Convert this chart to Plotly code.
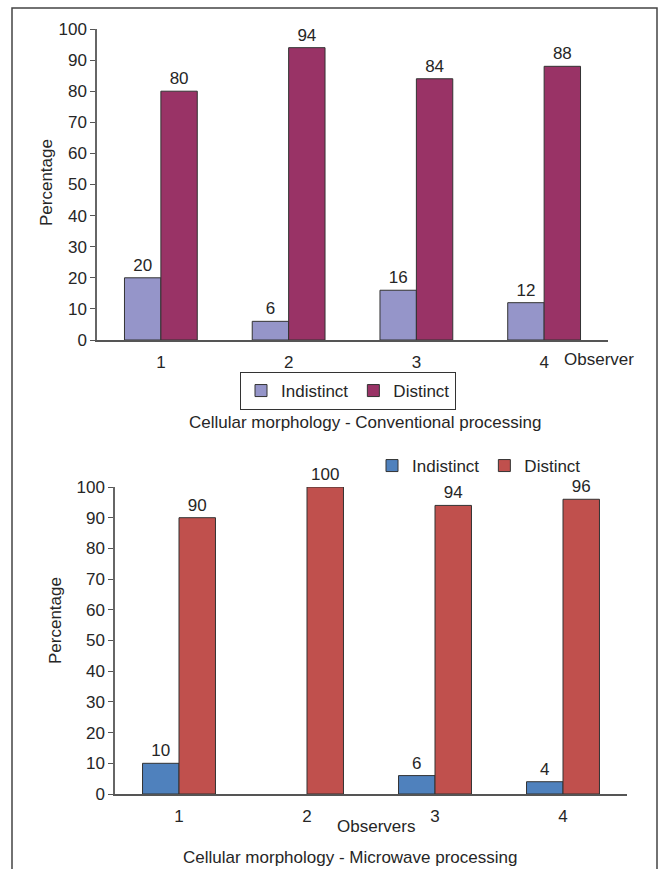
import plotly.graph_objects as go

# Data
observers = ["1", "2", "3", "4"]
conv_indistinct = [20, 6, 16, 12]
conv_distinct = [80, 94, 84, 88]
micro_indistinct = [10, 0, 6, 4]
micro_distinct = [90, 100, 94, 96]
y_ticks = list(range(0, 101, 10))

W, H = 661, 869
FONT = "Liberation Sans, Arial, sans-serif"
TXT = "#262626"


def px(x):
    return x / W


def py(y):
    return (H - y) / H


def labels(vals):
    # zero-height bars carry no value label
    return [str(v) if v else "" for v in vals]


def outline(vals):
    # zero-height bars get no outline either
    return dict(color="#333333", width=[1 if v else 0 for v in vals])


def bar(vals, name, color, xa, ya, leg):
    return go.Bar(x=observers, y=vals, name=name,
                  marker=dict(color=color, line=outline(vals)),
                  text=labels(vals), textposition="outside",
                  textfont=dict(size=17, color=TXT), cliponaxis=False,
                  xaxis=xa, yaxis=ya, legend=leg)


fig = go.Figure()

# Conventional processing (top panel)
fig.add_trace(bar(conv_indistinct, "Indistinct", "#9595C9", "x", "y", "legend"))
fig.add_trace(bar(conv_distinct, "Distinct", "#993366", "x", "y", "legend"))

# Microwave processing (bottom panel)
fig.add_trace(bar(micro_indistinct, "Indistinct", "#4F81BD", "x2", "y2", "legend2"))
fig.add_trace(bar(micro_distinct, "Distinct", "#C0504D", "x2", "y2", "legend2"))

yaxis_style = dict(range=[0, 100], tickvals=y_ticks, ticks="outside", ticklen=5,
                   tickcolor="#555555", showline=True, linecolor="#666666",
                   linewidth=1.5, showgrid=False, zeroline=False,
                   automargin=False,
                   tickfont=dict(size=17, color=TXT, family=FONT))
xaxis_style = dict(type="category", showline=True, linecolor="#555555",
                   linewidth=1.5, showgrid=False, ticks="outside", ticklen=6,
                   tickcolor="rgba(0,0,0,0)", automargin=False,
                   tickfont=dict(size=17, color=TXT, family=FONT))


def note(text, x, y, **kw):
    base = dict(text=text, x=px(x), y=py(y), xref="paper", yref="paper",
                xanchor="center", yanchor="middle", showarrow=False,
                font=dict(size=17, color=TXT))
    base.update(kw)
    return base


fig.update_layout(
    width=W, height=H,
    margin=dict(l=0, r=0, t=0, b=0, autoexpand=False),
    paper_bgcolor="white", plot_bgcolor="white",
    font=dict(family=FONT, size=17, color=TXT),
    barmode="group", bargap=0.43, bargroupgap=0,
    xaxis=dict(domain=[px(97), px(608)], anchor="y", **xaxis_style),
    yaxis=dict(domain=[py(340), py(29)], anchor="x", **yaxis_style),
    xaxis2=dict(domain=[px(115), px(627)], anchor="y2", **xaxis_style),
    yaxis2=dict(domain=[py(794), py(487)], anchor="x2", **yaxis_style),
    legend=dict(orientation="h", x=px(240), y=py(372), xanchor="left",
                yanchor="top", bordercolor="#333333", borderwidth=1,
                bgcolor="white", font=dict(size=17, color=TXT),
                itemwidth=30, tracegroupgap=0),
    legend2=dict(orientation="h", x=px(372), y=py(448), xanchor="left",
                 yanchor="top", borderwidth=0, bgcolor="rgba(0,0,0,0)",
                 font=dict(size=17, color=TXT), itemwidth=30),
    shapes=[dict(type="rect", xref="paper", yref="paper",
                 x0=px(12), x1=px(657), y0=-0.02, y1=py(8),
                 line=dict(color="#444444", width=1.5))],
    annotations=[
        note("Percentage", 46, 183, textangle=-90),
        note("Observer", 562, 359, xanchor="left"),
        note("Cellular morphology - Conventional processing", 365, 422),
        note("Percentage", 55, 620, textangle=-90),
        note("Observers", 376, 826),
        note("Cellular morphology - Microwave processing", 350, 857),
    ],
)

fig.write_html("out.html")
